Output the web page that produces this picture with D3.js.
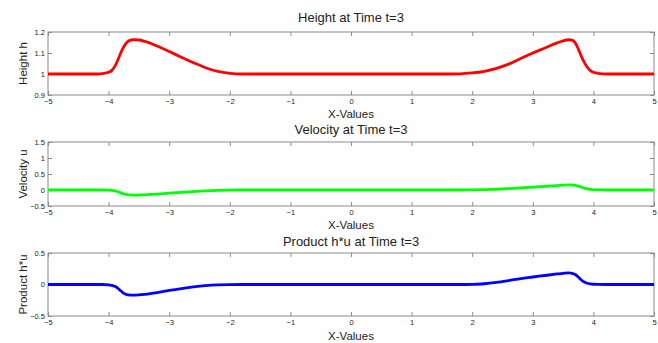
<!DOCTYPE html>
<html>
<head>
<meta charset="utf-8">
<script src="https://cdn.jsdelivr.net/npm/d3@7"></script>
<style>
  html, body { margin: 0; padding: 0; background: #fff; }
  svg { display: block; }
  text { font-family: "Liberation Sans", Arial, sans-serif; fill: #222; }
</style>
</head>
<body>
<svg id="chart" width="658" height="343"></svg>
<script>
// Sample positions along x and the three fields at t = 3
const xValues = [-5, -4.2, -4.1, -4.0, -3.95, -3.9, -3.85, -3.8, -3.75, -3.7, -3.65, -3.6,
  -3.5, -3.4, -3.2, -3.0, -2.8, -2.6, -2.4, -2.2, -2.0, -1.8, -1.5, 0, 1.5, 1.8, 2.0, 2.2,
  2.4, 2.6, 2.8, 3.0, 3.2, 3.4, 3.5, 3.6, 3.65, 3.7, 3.75, 3.8, 3.85, 3.9, 3.95, 4.0, 4.1, 4.2, 5];

const heightH = [1.0, 1.0, 1.002, 1.008, 1.016, 1.035, 1.065, 1.10, 1.13, 1.15, 1.16, 1.163,
  1.162, 1.155, 1.133, 1.107, 1.080, 1.054, 1.030, 1.012, 1.003, 1.0, 1.0, 1.0, 1.0, 1.001, 1.005, 1.013,
  1.027, 1.047, 1.074, 1.100, 1.124, 1.148, 1.158, 1.163, 1.161, 1.148, 1.12, 1.085, 1.055, 1.032, 1.016, 1.008, 1.002, 1.0, 1.0];

const velocityU = [0, 0, 0, -0.005, -0.012, -0.025, -0.05, -0.09, -0.125, -0.145, -0.155, -0.158,
  -0.157, -0.15, -0.13, -0.10, -0.074, -0.05, -0.028, -0.012, -0.003, 0, 0, 0, 0, 0, 0.003, 0.01,
  0.024, 0.043, 0.066, 0.09, 0.113, 0.137, 0.15, 0.158, 0.157, 0.147, 0.122, 0.09, 0.058, 0.033, 0.016, 0.007, 0.002, 0, 0];

const productHU = [0, 0, 0, -0.005, -0.013, -0.028, -0.057, -0.10, -0.14, -0.16, -0.168, -0.17,
  -0.166, -0.156, -0.128, -0.094, -0.064, -0.038, -0.018, -0.006, -0.001, 0, 0, 0, 0, 0, 0.003, 0.012,
  0.033, 0.062, 0.094, 0.119, 0.143, 0.167, 0.178, 0.186, 0.178, 0.158, 0.118, 0.072, 0.04, 0.02, 0.01, 0.004, 0.001, 0, 0];

const xTicks = [-5, -4, -3, -2, -1, 0, 1, 2, 3, 4, 5];
const heightTicks = [0.9, 1, 1.1, 1.2];
const velocityTicks = [-0.5, 0, 0.5, 1, 1.5];
const productTicks = [-0.5, 0, 0.5];

const panels = [
  { title: "Height at Time t=3", ylabel: "Height h", values: heightH, domain: [0.9, 1.2],
    ticks: heightTicks, color: "#ff0000", top: 32, bottom: 95, titleY: 22, xlabY: 118 },
  { title: "Velocity at Time t=3", ylabel: "Velocity u", values: velocityU, domain: [-0.5, 1.5],
    ticks: velocityTicks, color: "#00ff00", top: 142, bottom: 206, titleY: 134, xlabY: 229 },
  { title: "Product h*u at Time t=3", ylabel: "Product h*u", values: productHU, domain: [-0.5, 0.5],
    ticks: productTicks, color: "#0000ff", top: 253, bottom: 316, titleY: 246, xlabY: 340 }
];

const svg = d3.select("#chart");
const left = 48, right = 654;
const x = d3.scaleLinear().domain([-5, 5]).range([left, right]);
const frame = "#8a8a8a";
const tickLen = 4;

panels.forEach(p => {
  const y = d3.scaleLinear().domain(p.domain).range([p.bottom, p.top]);
  const g = svg.append("g");

  // bottom axis with labels, inward ticks
  const ax = g.append("g").attr("transform", `translate(0,${p.bottom})`)
    .call(d3.axisBottom(x).tickValues(xTicks).tickSizeInner(-tickLen).tickSizeOuter(0).tickPadding(4));
  // top axis ticks only
  const axt = g.append("g").attr("transform", `translate(0,${p.top})`)
    .call(d3.axisTop(x).tickValues(xTicks).tickSizeInner(-tickLen).tickSizeOuter(0).tickFormat(""));
  // left axis with labels
  const ay = g.append("g").attr("transform", `translate(${left},0)`)
    .call(d3.axisLeft(y).tickValues(p.ticks).tickSizeInner(-tickLen).tickSizeOuter(0).tickPadding(3).tickFormat(d3.format("")));
  // right axis ticks only
  const ayr = g.append("g").attr("transform", `translate(${right},0)`)
    .call(d3.axisRight(y).tickValues(p.ticks).tickSizeInner(-tickLen).tickSizeOuter(0).tickFormat(""));

  [ax, axt, ay, ayr].forEach(a => {
    a.select(".domain").remove();
    a.selectAll(".tick line").attr("stroke", frame);
    a.selectAll(".tick text").attr("font-size", 7.5).attr("fill", "#444")
      .style("font-family", "'Liberation Sans', Arial, sans-serif");
  });

  // plot box
  g.append("rect")
    .attr("x", left).attr("y", p.top)
    .attr("width", right - left).attr("height", p.bottom - p.top)
    .attr("fill", "none").attr("stroke", frame).attr("stroke-width", 1);

  // data line
  const line = d3.line()
    .x((d, i) => x(xValues[i]))
    .y(d => y(d))
    .curve(d3.curveMonotoneX);
  g.append("path")
    .datum(p.values)
    .attr("d", line)
    .attr("fill", "none")
    .attr("stroke", p.color)
    .attr("stroke-width", 2.8)
    .attr("stroke-linejoin", "round");

  // title and axis labels
  g.append("text").attr("x", (left + right) / 2).attr("y", p.titleY)
    .attr("text-anchor", "middle").attr("font-size", 13).text(p.title);
  g.append("text").attr("x", (left + right) / 2).attr("y", p.xlabY)
    .attr("text-anchor", "middle").attr("font-size", 11.5).text("X-Values");
  g.append("text")
    .attr("transform", `translate(27,${(p.top + p.bottom) / 2}) rotate(-90)`)
    .attr("text-anchor", "middle").attr("font-size", 11.5).text(p.ylabel);
});
</script>
</body>
</html>
